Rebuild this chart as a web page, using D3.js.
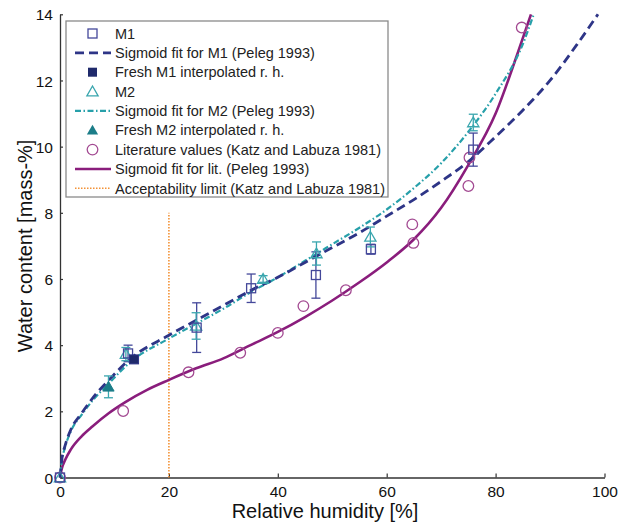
<!DOCTYPE html>
<html><head><meta charset="utf-8">
<script src="https://cdn.jsdelivr.net/npm/d3@7"></script>
<style>body{margin:0;background:#fff}svg{display:block}text{font-family:"Liberation Sans",Arial,sans-serif}</style>
</head><body><svg id="c" width="618" height="528"></svg>
<script>
// ---- data ----
const xTicks = [0, 20, 40, 60, 80, 100];
const yTicks = [0, 2, 4, 6, 8, 10, 12, 14];
// M1 measured (open squares) : rh, water content, error
const m1X = [0, 12.5, 25.1, 35.1, 47.0, 57.1, 75.9];
const m1Y = [0, 3.75, 4.53, 5.72, 6.12, 6.90, 9.91];
const m1E = [0, 0.25, 0.75, 0.43, 0.7, 0.15, 0.5];
// Fresh M1 interpolated
const fm1X = [13.6];
const fm1Y = [3.57];
// M2 measured (open triangles)
const m2X = [0, 12.1, 25.0, 37.3, 47.1, 57.0, 75.9];
const m2Y = [0, 3.73, 4.58, 6.0, 6.77, 7.27, 10.73];
const m2E = [0, 0.2, 0.4, 0.1, 0.35, 0.3, 0.25];
// Fresh M2 interpolated
const fm2X = [8.9];
const fm2Y = [2.74];
const fm2E = [0.33];
// Literature values (circles)
const litX = [0, 11.6, 23.6, 33.1, 40.0, 44.7, 52.5, 64.9, 64.7, 75.0, 75.2, 84.8];
const litY = [0, 2.01, 3.18, 3.77, 4.37, 5.18, 5.66, 7.09, 7.65, 8.81, 9.67, 13.6];
// Sigmoid fit curves
const fitM1X = [0, 0.3, 1, 2, 4, 6, 9, 13, 20, 25, 30, 35, 40, 45, 50, 55, 60, 65, 70, 75, 80, 85, 90, 95, 98.8];
const fitM1Y = [0, 0.5, 1.0, 1.45, 1.95, 2.4, 2.95, 3.6, 4.3, 4.75, 5.2, 5.65, 6.05, 6.5, 6.95, 7.4, 7.9, 8.4, 8.95, 9.55, 10.3, 11.1, 12.0, 13.1, 14.0];
const fitM2X = [0, 0.3, 1, 2, 4, 6, 9, 13, 20, 25, 30, 35, 40, 45, 50, 55, 60, 65, 70, 75, 80, 85, 87];
const fitM2Y = [0, 0.45, 0.95, 1.4, 1.9, 2.33, 2.85, 3.5, 4.2, 4.65, 5.1, 5.6, 6.05, 6.55, 7.05, 7.55, 8.1, 8.75, 9.5, 10.45, 11.6, 13.1, 14.0];
const fitLitX = [0, 0.3, 1, 2, 4, 6, 9, 12, 16, 20, 25, 30, 35, 40, 45, 50, 55, 60, 65, 70, 75, 80, 84, 86.5];
const fitLitY = [0, 0.25, 0.55, 0.85, 1.25, 1.55, 1.95, 2.28, 2.65, 2.95, 3.3, 3.6, 4.0, 4.4, 4.85, 5.35, 5.9, 6.5, 7.2, 8.15, 9.45, 11.0, 12.8, 14.0];
// Acceptability limit
const limX = [20, 20];
const limY = [0, 8];

const legendLabels = ["M1", "Sigmoid fit for M1 (Peleg 1993)", "Fresh M1 interpolated r. h.", "M2",
  "Sigmoid fit for M2 (Peleg 1993)", "Fresh M2 interpolated r. h.", "Literature values (Katz and Labuza 1981)",
  "Sigmoid fit for lit. (Peleg 1993)", "Acceptability limit (Katz and Labuza 1981)"];

// ---- styles ----
const C = {navy: "#2e3587", navyPt: "#44489a", navyFill: "#1f2a6b", teal: "#27a0aa", tealPt: "#3aa6ae", tealFill: "#1b7d88",
  purple: "#8a1d7c", circ: "#a34a92", orange: "#f39237", axis: "#333"};

const svg = d3.select("#c");
const x = d3.scaleLinear().domain([0, 100]).range([60, 604.5]);
const y = d3.scaleLinear().domain([0, 14]).range([477.5, 14.3]);

// axes
const xAxis = d3.axisBottom(x).tickValues(xTicks).tickSizeInner(-4).tickSizeOuter(0).tickPadding(8);
const yAxis = d3.axisLeft(y).tickValues(yTicks).tickSizeInner(-3).tickSizeOuter(0).tickPadding(7);
const gx = svg.append("g").attr("transform", `translate(0,${y(0)})`).call(xAxis);
const gy = svg.append("g").attr("transform", `translate(${x(0)},0)`).call(yAxis);
[gx, gy].forEach(g => {
  g.select(".domain").attr("stroke", C.axis).attr("stroke-width", 1.3);
  g.selectAll(".tick line").attr("stroke", C.axis).attr("stroke-width", 1.2);
  g.selectAll(".tick text").attr("font-size", 15.5).attr("fill", "#111").attr("font-family", '"Liberation Sans",Arial,sans-serif');
});
gx.selectAll(".tick text").attr("dy", "0.72em");
gy.selectAll(".tick text").attr("dy", "0.36em");

svg.append("text").attr("x", 325).attr("y", 518).attr("text-anchor", "middle").attr("font-size", 20).attr("fill", "#111").text("Relative humidity [%]");
svg.append("text").attr("transform", `translate(32,${(y(0) + y(14)) / 2}) rotate(-90)`).attr("text-anchor", "middle").attr("font-size", 20).attr("fill", "#111").text("Water content [mass-%]");

const line = d3.line().x(d => x(d[0])).y(d => y(d[1])).curve(d3.curveMonotoneX);
const zip = (a, b) => a.map((v, i) => [v, b[i]]);

// acceptability limit
svg.append("path").attr("d", d3.line().x(d => x(d[0])).y(d => y(d[1]))(zip(limX, limY)))
  .attr("stroke", C.orange).attr("stroke-width", 1.6).attr("stroke-dasharray", "1.5,1.5").attr("fill", "none");

// fits
svg.append("path").attr("d", line(zip(fitLitX, fitLitY))).attr("stroke", C.purple).attr("stroke-width", 2.6).attr("fill", "none");
svg.append("path").attr("d", line(zip(fitM2X, fitM2Y))).attr("stroke", C.teal).attr("stroke-width", 2.2).attr("stroke-dasharray", "6,2.5,1.5,2.5").attr("fill", "none");
svg.append("path").attr("d", line(zip(fitM1X, fitM1Y))).attr("stroke", C.navy).attr("stroke-width", 2.8).attr("stroke-dasharray", "9,5").attr("fill", "none");

// error bars
function errbars(xs, ys, es, color) {
  const g = svg.append("g").attr("stroke", color).attr("stroke-width", 1.3).attr("fill", "none");
  xs.forEach((xv, i) => {
    if (!es[i]) return;
    const cx = x(xv), y1 = y(ys[i] - es[i]), y2 = y(ys[i] + es[i]);
    g.append("line").attr("x1", cx).attr("x2", cx).attr("y1", y1).attr("y2", y2);
    g.append("line").attr("x1", cx - 4.5).attr("x2", cx + 4.5).attr("y1", y1).attr("y2", y1);
    g.append("line").attr("x1", cx - 4.5).attr("x2", cx + 4.5).attr("y1", y2).attr("y2", y2);
  });
}
errbars(m1X, m1Y, m1E, C.navyPt);
errbars(m2X, m2Y, m2E, C.tealPt);
errbars(fm2X, fm2Y, fm2E, C.tealPt);

const tri = d3.symbol().type(d3.symbolTriangle).size(55);
// literature circles
svg.append("g").selectAll("circle").data(zip(litX, litY)).join("circle")
  .attr("cx", d => x(d[0])).attr("cy", d => y(d[1])).attr("r", 5.3)
  .attr("fill", "none").attr("stroke", C.circ).attr("stroke-width", 1.3);
// M2 triangles
svg.append("g").selectAll("path").data(zip(m2X, m2Y)).join("path")
  .attr("transform", d => `translate(${x(d[0])},${y(d[1]) + 1})`).attr("d", tri)
  .attr("fill", "none").attr("stroke", C.tealPt).attr("stroke-width", 1.3);
// M1 squares
svg.append("g").selectAll("rect").data(zip(m1X, m1Y)).join("rect")
  .attr("x", d => x(d[0]) - 4.5).attr("y", d => y(d[1]) - 4.5).attr("width", 9).attr("height", 9)
  .attr("fill", "none").attr("stroke", C.navyPt).attr("stroke-width", 1.3);
// fresh M1
svg.append("g").selectAll("rect").data(zip(fm1X, fm1Y)).join("rect")
  .attr("x", d => x(d[0]) - 4.5).attr("y", d => y(d[1]) - 4.5).attr("width", 9).attr("height", 9)
  .attr("fill", C.navyFill).attr("stroke", C.navy).attr("stroke-width", 1);
// fresh M2
svg.append("g").selectAll("path").data(zip(fm2X, fm2Y)).join("path")
  .attr("transform", d => `translate(${x(d[0])},${y(d[1]) + 1})`).attr("d", tri)
  .attr("fill", C.tealFill).attr("stroke", C.tealFill).attr("stroke-width", 1);

// legend
const lg = svg.append("g");
lg.append("rect").attr("x", 66).attr("y", 21).attr("width", 322).attr("height", 176)
  .attr("fill", "#fff").attr("stroke", "#8a8a8a").attr("stroke-width", 1.3);
const rowY = i => 33.5 + i * 19.35;
const sx = 92.5, lx1 = 75, lx2 = 111;
legendLabels.forEach((t, i) => {
  lg.append("text").attr("x", 115).attr("y", rowY(i)).attr("dy", "0.36em").attr("font-size", 14.5).attr("fill", "#222").text(t);
});
lg.append("rect").attr("x", sx - 4.5).attr("y", rowY(0) - 4.5).attr("width", 9).attr("height", 9).attr("fill", "none").attr("stroke", C.navyPt).attr("stroke-width", 1.3);
lg.append("line").attr("x1", lx1).attr("x2", lx2).attr("y1", rowY(1)).attr("y2", rowY(1)).attr("stroke", C.navy).attr("stroke-width", 2.8).attr("stroke-dasharray", "9,5");
lg.append("rect").attr("x", sx - 4.5).attr("y", rowY(2) - 4.5).attr("width", 9).attr("height", 9).attr("fill", C.navyFill);
lg.append("path").attr("transform", `translate(${sx},${rowY(3) + 1})`).attr("d", tri).attr("fill", "none").attr("stroke", C.tealPt).attr("stroke-width", 1.3);
lg.append("line").attr("x1", lx1).attr("x2", lx2).attr("y1", rowY(4)).attr("y2", rowY(4)).attr("stroke", C.teal).attr("stroke-width", 2.2).attr("stroke-dasharray", "6,2.5,1.5,2.5");
lg.append("path").attr("transform", `translate(${sx},${rowY(5) + 1})`).attr("d", tri).attr("fill", C.tealFill);
lg.append("circle").attr("cx", sx).attr("cy", rowY(6)).attr("r", 5.3).attr("fill", "none").attr("stroke", C.circ).attr("stroke-width", 1.3);
lg.append("line").attr("x1", lx1).attr("x2", lx2).attr("y1", rowY(7)).attr("y2", rowY(7)).attr("stroke", C.purple).attr("stroke-width", 2.6);
lg.append("line").attr("x1", lx1).attr("x2", lx2).attr("y1", rowY(8)).attr("y2", rowY(8)).attr("stroke", C.orange).attr("stroke-width", 1.6).attr("stroke-dasharray", "1.5,1.5");
</script></body></html>
